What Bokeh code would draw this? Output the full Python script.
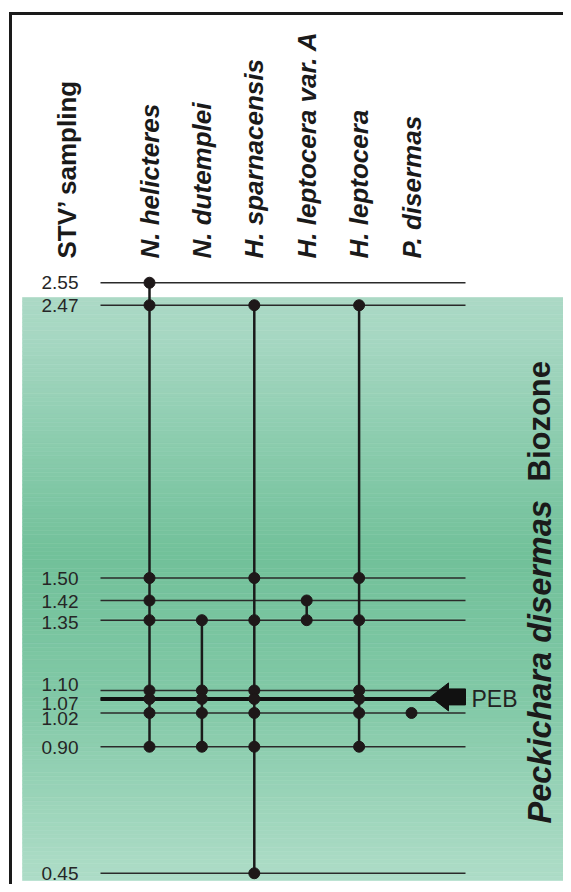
import numpy as np
from bokeh.plotting import figure
from bokeh.models import Range1d
from bokeh.core.properties import value
from bokeh.embed import file_html
from bokeh.resources import INLINE

# ---------------- data ----------------
samples = [2.55, 2.47, 1.50, 1.42, 1.35, 1.10, 1.07, 1.02, 0.90, 0.45]
sample_labels = ["2.55", "2.47", "1.50", "1.42", "1.35", "1.10", "1.07", "1.02", "0.90", "0.45"]
species = ["N. helicteres", "N. dutemplei", "H. sparnacensis",
           "H. leptocera var. A", "H. leptocera", "P. disermas"]
occ_n_helicteres = [2.55, 2.47, 1.50, 1.42, 1.35, 1.10, 1.07, 1.02, 0.90]
occ_n_dutemplei = [1.35, 1.10, 1.07, 1.02, 0.90]
occ_h_sparnacensis = [2.47, 1.50, 1.35, 1.10, 1.07, 1.02, 0.90, 0.45]
occ_h_leptocera_a = [1.42, 1.35]
occ_h_leptocera = [2.47, 1.50, 1.35, 1.10, 1.07, 1.02, 0.90]
occ_p_disermas = [1.02]
occurrences = [occ_n_helicteres, occ_n_dutemplei, occ_h_sparnacensis,
               occ_h_leptocera_a, occ_h_leptocera, occ_p_disermas]
peb_level = 1.07
sampling_title = "STV\u2019 sampling"
biozone_name = "Peckichara disermas"
biozone_word = "Biozone"
peb_label = "PEB"

# ---------------- layout (reference pixel geometry) ----------------
W, H = 563, 884
OX, OY = 0, 0
COL0, COLDX = 149.0, 52.4
YPX0, YK = 999.3, 281.2
# pixel nudges of the tick labels (to keep close labels apart)
label_nudge_px = [0, 0, 0, 1, 2, -6, 5, 6, 1, 0]


def dx(px):
    return (px - COL0) / COLDX


def dy(py):
    return (YPX0 - py) / YK


FONT = value("Liberation Sans")

p = figure(width=W, height=H,
           x_range=Range1d(dx(OX), dx(OX + W)),
           y_range=Range1d(dy(OY + H), dy(OY)),
           x_axis_location=None, y_axis_location=None,
           output_backend="svg", toolbar_location=None, min_border=0)
p.grid.visible = False
p.outline_line_color = None
p.background_fill_color = "white"
p.border_fill_color = "white"

# gradient band
band_top, band_bot, band_l, band_r = 297, 880, 22, 567
n = 140
edges = np.linspace(band_top, band_bot, n + 1)
mids = (edges[:-1] + edges[1:]) / 2
sy = [297, 340, 450, 555, 700, 850, 880]
rr = [172, 166, 138, 114, 130, 168, 174]
gg = [218, 215, 204, 193, 201, 218, 221]
bb = [198, 194, 173, 154, 167, 195, 200]
cols = ["#%02x%02x%02x" % (int(np.interp(m, sy, rr)), int(np.interp(m, sy, gg)), int(np.interp(m, sy, bb))) for m in mids]
p.quad(left=dx(band_l), right=dx(band_r), top=[dy(e) for e in edges[:-1]],
       bottom=[dy(e) for e in edges[1:]], fill_color=cols, line_color=cols, line_width=0.6)

# frame
p.segment(x0=[dx(10), dx(8.5)], y0=[dy(12), dy(13)], x1=[dx(10), dx(580)], y1=[dy(900), dy(13)],
          line_color="#1a1a1a", line_width=3)

# sample lines
p.segment(x0=dx(100), x1=dx(465), y0=samples, y1=samples, line_color="#2a2a2a", line_width=1.5)
p.segment(x0=dx(100), x1=dx(445), y0=peb_level, y1=peb_level, line_color="#111111", line_width=4)

# ranges and occurrences
for i, occ in enumerate(occurrences):
    if len(occ) > 1:
        p.segment(x0=i, x1=i, y0=max(occ), y1=min(occ), line_color="#1a1a1a", line_width=2.5)
for i, occ in enumerate(occurrences):
    p.scatter(x=[i] * len(occ), y=occ, size=11, fill_color="#1e1819", line_color="#1e1819")

# PEB arrow
pyc = YPX0 - YK * peb_level - 2
ax = [430, 448, 448, 465, 465, 448, 448]
ay = [0, -14, -8, -8, 8, 8, 14]
p.patch(x=[dx(a) for a in ax], y=[dy(pyc + b) for b in ay], fill_color="#111111", line_color="#111111")
p.text(x=dx(471), y=[peb_level], text=[peb_label], text_align="left", text_baseline="middle",
       text_font=FONT, text_font_size="23px", text_color="#222222")

# tick labels
label_y = [v - nud / YK for v, nud in zip(samples, label_nudge_px)]
p.text(x=dx(78), y=label_y, text=sample_labels, text_align="right", text_baseline="middle",
       text_font=FONT, text_font_size="19px", text_color="#262626")

# headers
p.text(x=list(range(len(species))), y=dy(258), text=species, angle=np.pi / 2,
       text_align="left", text_baseline="middle", text_font=FONT,
       text_font_size="26px", text_font_style="bold italic", text_color="#1a1a1a")
p.text(x=[dx(66)], y=[dy(258)], text=[sampling_title], angle=np.pi / 2,
       text_align="left", text_baseline="middle", text_font=FONT,
       text_font_size="26px", text_font_style="bold", text_color="#1a1a1a")

# biozone label
p.text(x=[dx(539)], y=[dy(823)], text=[biozone_name], angle=np.pi / 2,
       text_align="left", text_baseline="middle", text_font=FONT,
       text_font_size="32.5px", text_font_style="bold italic", text_color="#1a1a1a")
p.text(x=[dx(539)], y=[dy(481)], text=[biozone_word], angle=np.pi / 2,
       text_align="left", text_baseline="middle", text_font=FONT,
       text_font_size="31px", text_font_style="bold", text_color="#1a1a1a")

open("out.html", "w").write(file_html(p, INLINE))
